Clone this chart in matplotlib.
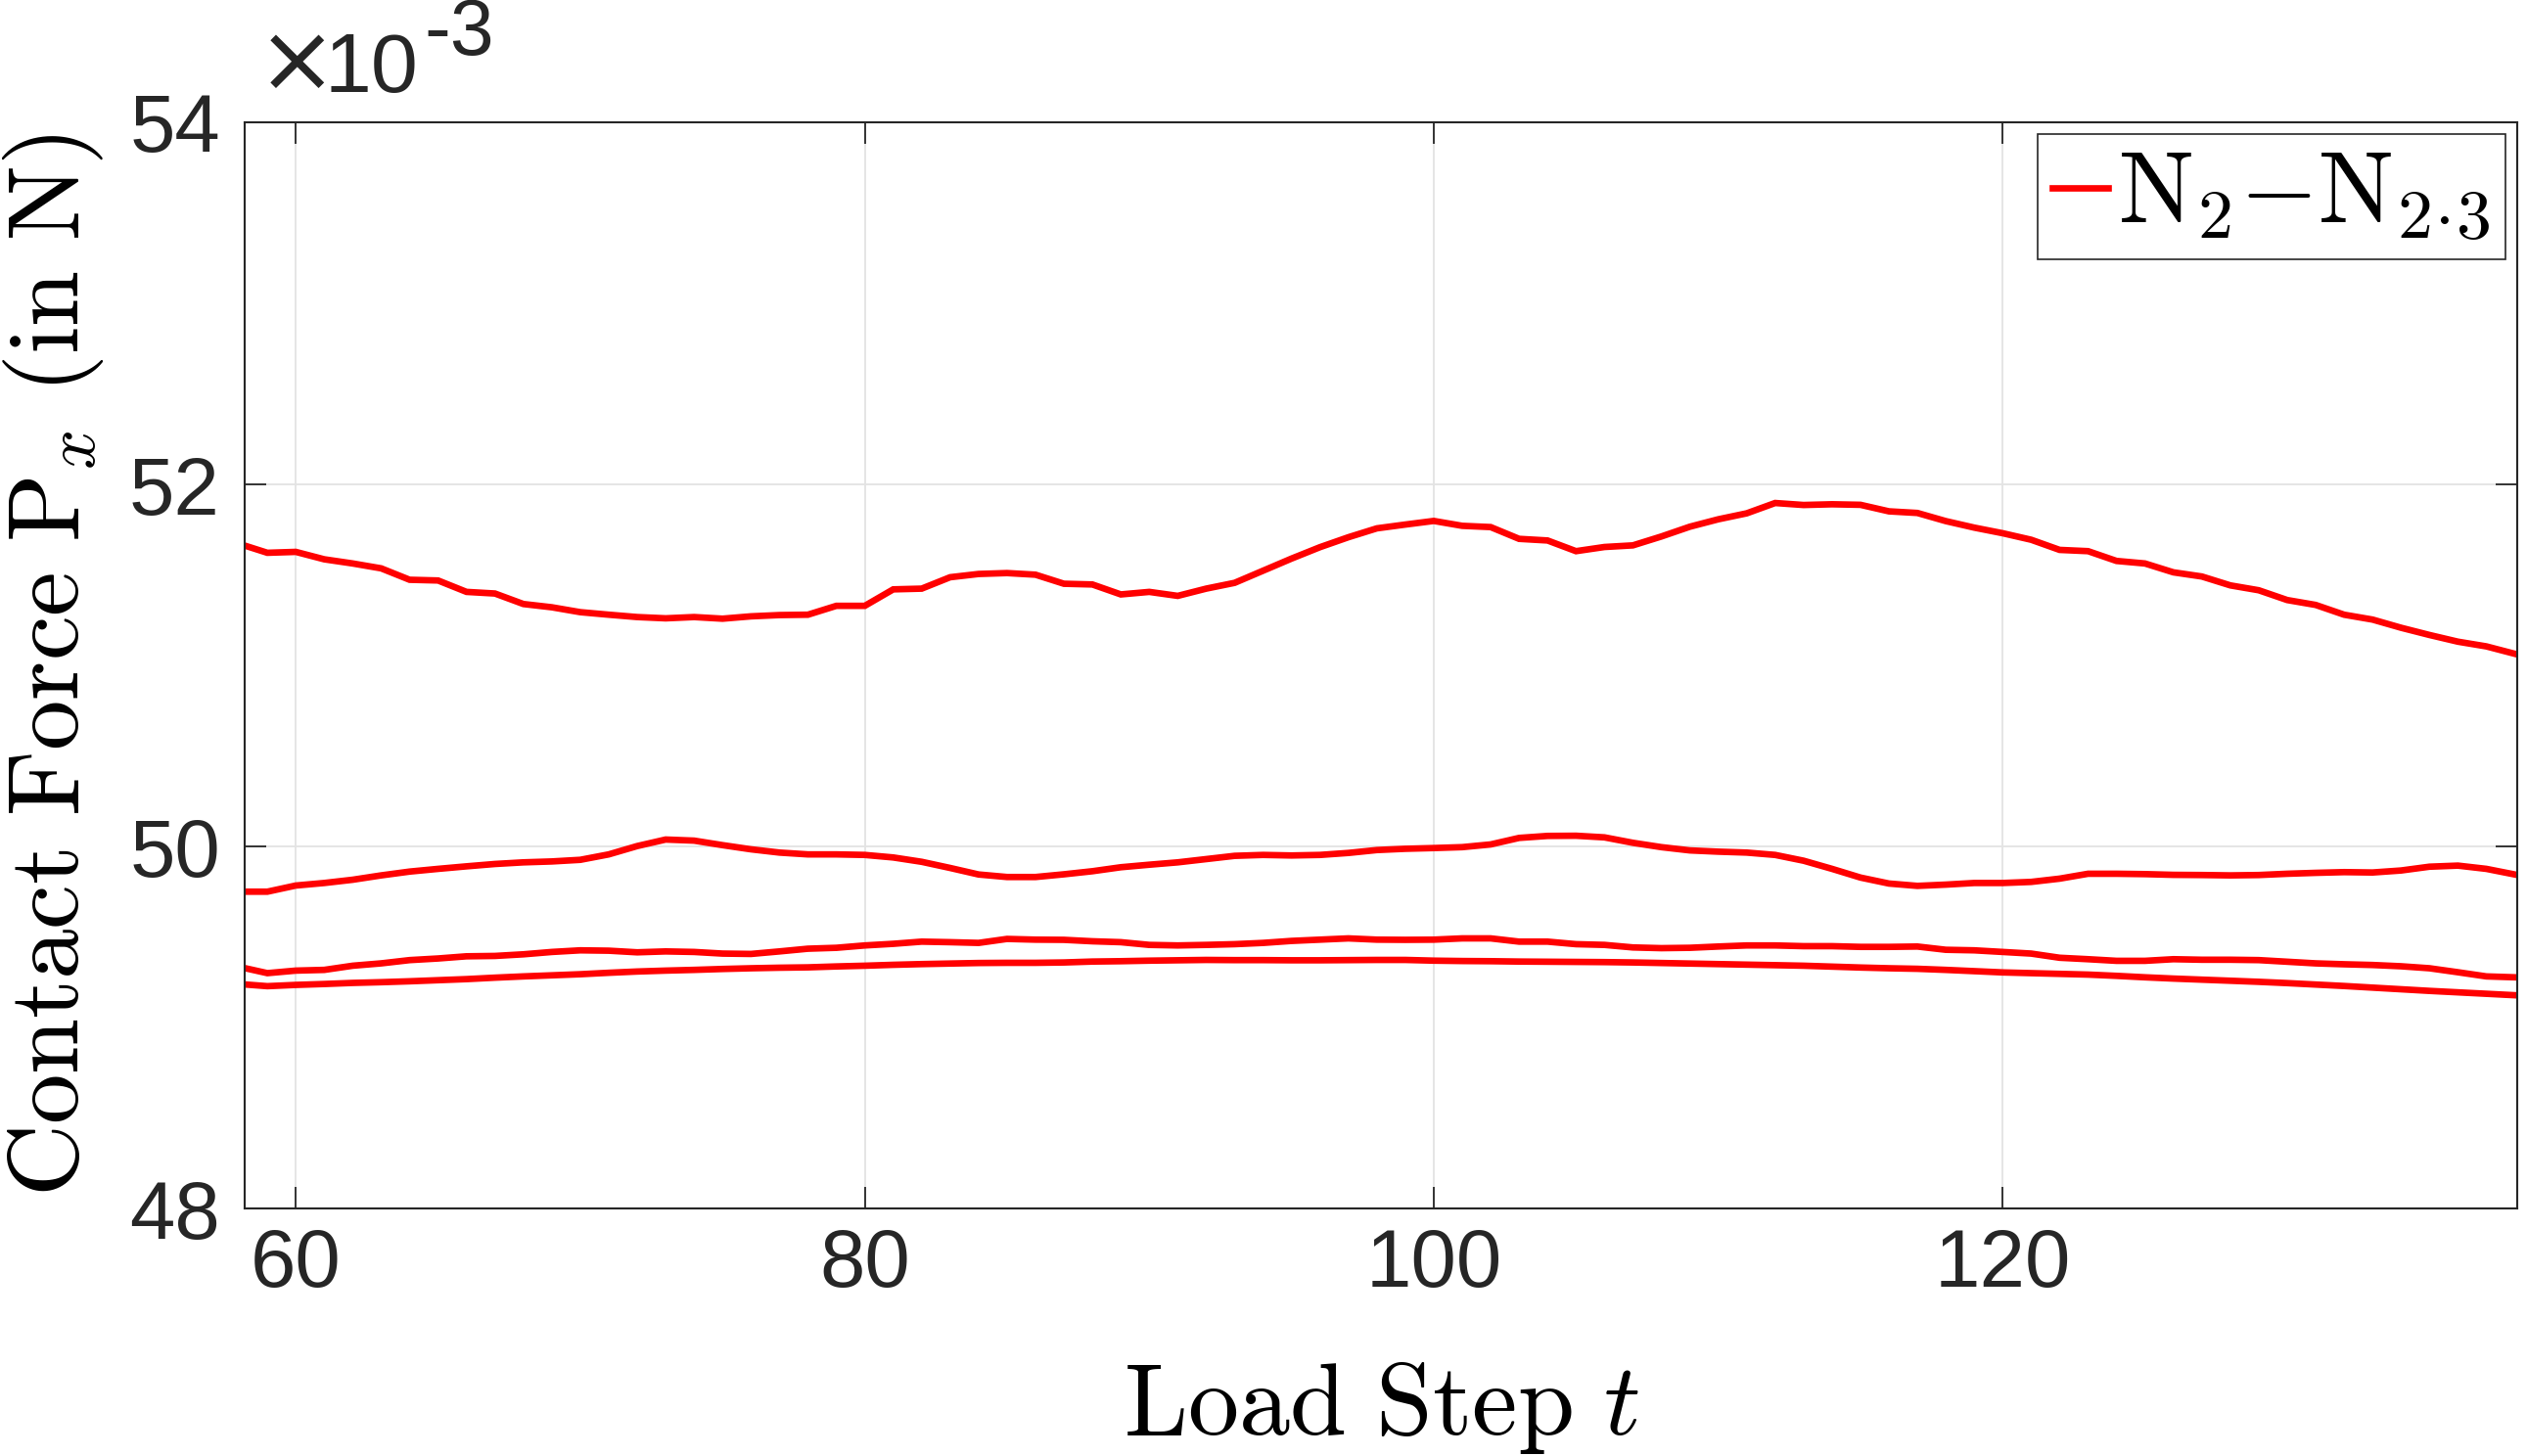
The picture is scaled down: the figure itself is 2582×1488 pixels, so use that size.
import matplotlib
matplotlib.use("Agg")
import matplotlib.pyplot as plt
import numpy as np
from matplotlib.ticker import FuncFormatter, FixedLocator

plt.rcParams['mathtext.fontset'] = 'cm'
plt.rcParams['font.family'] = ['Liberation Sans', 'DejaVu Sans']

# Load steps
t = list(range(58, 139))

# Contact force values in units of 1e-3 N
curve_top = [51.672, 51.622, 51.627, 51.586, 51.563, 51.536, 51.473, 51.469, 51.406, 51.397,
             51.339, 51.321, 51.294, 51.280, 51.267, 51.260, 51.267, 51.258, 51.271, 51.278,
             51.280, 51.329, 51.329, 51.420, 51.424, 51.487, 51.505, 51.510, 51.501, 51.451,
             51.447, 51.392, 51.406, 51.384, 51.424, 51.456, 51.523, 51.590, 51.653, 51.708,
             51.757, 51.778, 51.798, 51.771, 51.764, 51.699, 51.690, 51.631, 51.654, 51.663,
             51.712, 51.766, 51.807, 51.840, 51.897, 51.886, 51.890, 51.887, 51.851, 51.842,
             51.797, 51.761, 51.730, 51.694, 51.638, 51.631, 51.577, 51.563, 51.514, 51.491,
             51.442, 51.415, 51.361, 51.334, 51.280, 51.253, 51.208, 51.168, 51.131, 51.105,
             51.064]

curve_second = [49.750, 49.750, 49.784, 49.798, 49.816, 49.840, 49.861, 49.876, 49.890, 49.903,
                49.912, 49.917, 49.926, 49.956, 50.002, 50.038, 50.032, 50.007, 49.984, 49.966,
                49.956, 49.956, 49.953, 49.939, 49.915, 49.881, 49.845, 49.831, 49.831, 49.846,
                49.863, 49.885, 49.899, 49.912, 49.930, 49.948, 49.953, 49.950, 49.953, 49.964,
                49.980, 49.987, 49.991, 49.996, 50.011, 50.047, 50.058, 50.059, 50.050, 50.020,
                49.996, 49.978, 49.971, 49.966, 49.953, 49.921, 49.876, 49.828, 49.795, 49.782,
                49.789, 49.798, 49.798, 49.804, 49.822, 49.849, 49.849, 49.847, 49.843, 49.842,
                49.840, 49.842, 49.849, 49.854, 49.858, 49.856, 49.867, 49.888, 49.894, 49.876,
                49.845]

curve_third = [49.335, 49.300, 49.314, 49.318, 49.341, 49.354, 49.372, 49.381, 49.393, 49.395,
               49.404, 49.417, 49.426, 49.424, 49.415, 49.420, 49.417, 49.408, 49.406, 49.420,
               49.435, 49.440, 49.453, 49.462, 49.474, 49.471, 49.467, 49.489, 49.485, 49.484,
               49.476, 49.471, 49.456, 49.453, 49.456, 49.460, 49.467, 49.478, 49.485, 49.492,
               49.485, 49.484, 49.485, 49.492, 49.492, 49.474, 49.474, 49.460, 49.456, 49.442,
               49.438, 49.440, 49.447, 49.453, 49.453, 49.449, 49.449, 49.445, 49.445, 49.447,
               49.429, 49.426, 49.417, 49.408, 49.385, 49.377, 49.368, 49.368, 49.377, 49.374,
               49.374, 49.372, 49.363, 49.354, 49.349, 49.345, 49.338, 49.327, 49.305, 49.282,
               49.277]

curve_bottom = [49.240, 49.228, 49.235, 49.240, 49.246, 49.250, 49.255, 49.261, 49.267, 49.275,
                49.282, 49.288, 49.294, 49.302, 49.309, 49.314, 49.318, 49.323, 49.327, 49.330,
                49.332, 49.337, 49.341, 49.346, 49.350, 49.353, 49.356, 49.357, 49.357, 49.359,
                49.364, 49.366, 49.369, 49.371, 49.373, 49.372, 49.372, 49.371, 49.371, 49.372,
                49.373, 49.373, 49.369, 49.367, 49.366, 49.364, 49.363, 49.362, 49.361, 49.359,
                49.356, 49.353, 49.350, 49.347, 49.344, 49.341, 49.336, 49.331, 49.327, 49.324,
                49.318, 49.311, 49.304, 49.300, 49.296, 49.292, 49.285, 49.277, 49.270, 49.264,
                49.258, 49.252, 49.245, 49.237, 49.229, 49.220, 49.211, 49.202, 49.194, 49.186,
                49.178]

x_ticks = [60, 80, 100, 120]
y_ticks = [48, 50, 52, 54]
legend_label = r'$\mathrm{N}_2{-}\mathrm{N}_{2\!\cdot\!3}$'

fig = plt.figure(figsize=(25.82, 14.88), dpi=100)
ax = fig.add_axes([0.0968, 0.170, 0.8995, 0.746])

series = [curve_top, curve_second, curve_third, curve_bottom]
for i, s in enumerate(series):
    ax.plot(t, np.array(s) * 1e-3, color='#ff0000', lw=4.8,
            label=legend_label if i == 0 else None, solid_joinstyle='miter')

ax.set_xlim(58.2, 138.1)
ax.set_ylim(48e-3, 54e-3)
ax.xaxis.set_major_locator(FixedLocator(x_ticks))
ax.yaxis.set_major_locator(FixedLocator([v * 1e-3 for v in y_ticks]))
ax.yaxis.set_major_formatter(FuncFormatter(lambda v, p: f"{v * 1e3:.0f}"))

ax.grid(True, color='#e3e3e3', lw=1.3)
ax.set_axisbelow(True)
for sp in ax.spines.values():
    sp.set_color('#262626')
    sp.set_linewidth(1.5)
ax.tick_params(direction='in', length=16, width=1.3, colors='#262626',
               labelsize=60, top=True, right=True)
ax.tick_params(axis='x', pad=14)
ax.tick_params(axis='y', pad=18)

ax.set_xlabel(r'$\mathrm{Load\ Step}\ t$', fontsize=75, color='#000000')
ax.set_ylabel(r'$\mathrm{Contact\ Force\ P}_x\ \mathrm{(in\ N)}$', fontsize=74, color='#000000')
ax.xaxis.set_label_coords(0.5, -0.14)
ax.yaxis.set_label_coords(-0.061, 0.5)

# Exponent multiplier
ax.text(0.005, 1.012, r'$\times$', transform=ax.transAxes, fontsize=70, color='#262626',
        ha='left', va='bottom', math_fontfamily='dejavusans')
ax.text(0.035, 1.012, '10', transform=ax.transAxes, fontsize=62, color='#262626',
        ha='left', va='bottom')
ax.text(0.079, 1.047, '-3', transform=ax.transAxes, fontsize=58, color='#262626',
        ha='left', va='bottom')

leg = ax.legend(loc='upper right', fontsize=74, handlelength=0.55, handletextpad=0.1,
                borderpad=0.15, borderaxespad=0.12, fancybox=False, framealpha=1)
leg.get_frame().set_edgecolor('#262626')
leg.get_frame().set_linewidth(1.2)

fig.savefig('out.png', dpi=100)
